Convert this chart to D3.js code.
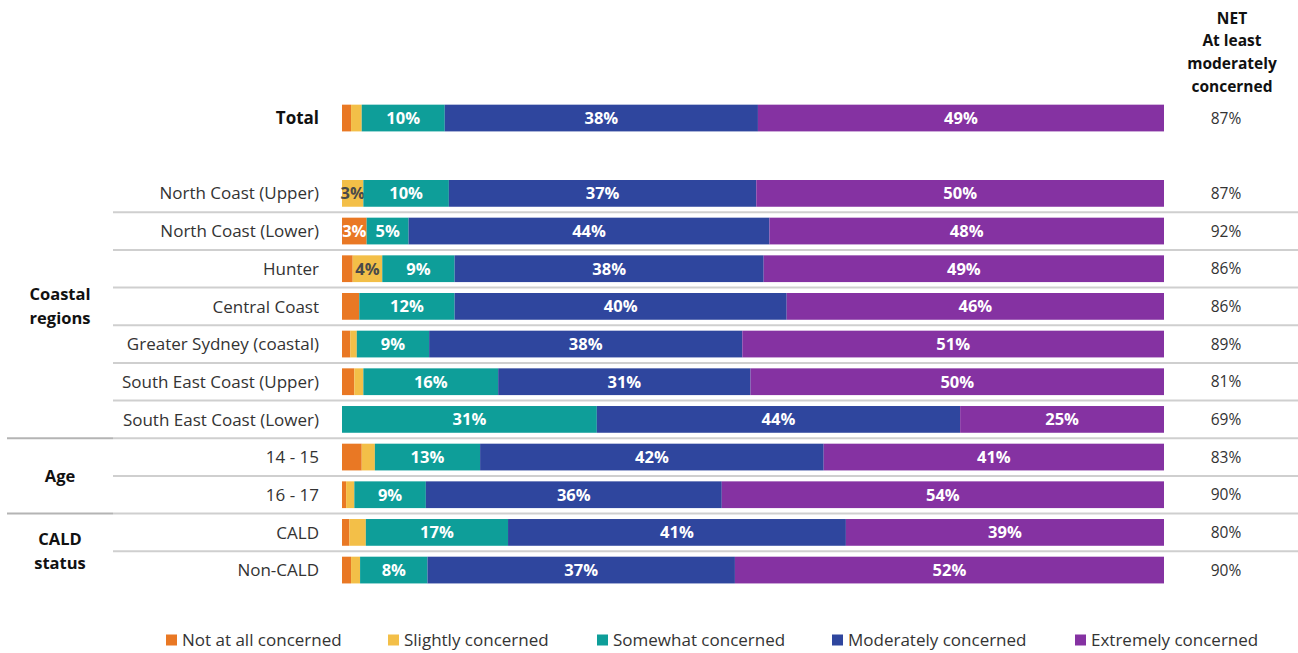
<!DOCTYPE html>
<html>
<head>
<meta charset="utf-8">
<script src="https://cdn.jsdelivr.net/npm/d3@7"></script>
<style>
  html, body { margin: 0; padding: 0; background: #ffffff; }
  svg { display: block; font-family: "Open Sans", Lato, sans-serif; }
</style>
</head>
<body>
<svg id="chart" width="1298" height="653"></svg>
<script>
// Row labels, top to bottom ("" marks the blank spacer row under Total)
const rows = [
  "Total", "",
  "North Coast (Upper)", "North Coast (Lower)", "Hunter", "Central Coast",
  "Greater Sydney (coastal)", "South East Coast (Upper)", "South East Coast (Lower)",
  "14 - 15", "16 - 17", "CALD", "Non-CALD"
];
const dataRows = rows.filter(r => r !== "");

// Share of respondents per level of concern (%), aligned with dataRows
const notAtAll   = [1.1, 0,    3.0,  1.3,  2.1,  1.0,  1.5,  0,    2.4,  0.5,  0.9,  1.1];
const slightly   = [1.3, 2.6,  0,    3.6,  0,    0.8,  1.1,  0,    1.6,  1.0,  2.0,  1.1];
const somewhat   = [10.1, 10.4, 5.1, 8.8,  11.6, 8.8,  16.4, 31.0, 12.8, 8.7,  17.3, 8.2];
const moderately = [38.1, 37.4, 43.9, 37.6, 40.4, 38.1, 30.7, 44.2, 41.8, 36.0, 41.1, 37.4];
const extremely  = [49.4, 49.6, 48.0, 48.7, 45.9, 51.3, 50.3, 24.8, 41.4, 53.8, 38.7, 52.2];

// NET: at least moderately concerned (%)
const netValues = [87, 87, 92, 86, 86, 89, 81, 69, 83, 90, 80, 90];

const seriesNames  = ["Not at all concerned", "Slightly concerned", "Somewhat concerned", "Moderately concerned", "Extremely concerned"];
const seriesColors = ["#E97824", "#F3BF48", "#0E9E99", "#2F469E", "#8532A2"];
const netHeader = ["NET", "At least", "moderately", "concerned"];

// Grouping of rows on the left
const groups = [
  { lines: ["Coastal", "regions"], first: "North Coast (Upper)", last: "South East Coast (Lower)" },
  { lines: ["Age"], first: "14 - 15", last: "16 - 17" },
  { lines: ["CALD", "status"], first: "CALD", last: "Non-CALD" }
];

const table = dataRows.map((name, i) => ({
  name,
  values: [notAtAll[i], slightly[i], somewhat[i], moderately[i], extremely[i]],
  net: netValues[i]
}));

const svg = d3.select("#chart");

const x = d3.scaleLinear().domain([0, 100]).range([342, 1164]);
const y = d3.scaleBand().domain(rows).range([99.2, 588.9]).paddingInner(0.29).paddingOuter(0.145);
const color = d3.scaleOrdinal().domain(seriesNames).range(seriesColors);

// Separator lines
const sepG = svg.append("g");
function sepY(a, b) { return (y(a) + y.bandwidth() + y(b)) / 2; }
for (let i = 2; i < rows.length - 1; i++) {
  const a = rows[i], b = rows[i + 1];
  const yy = sepY(a, b);
  const groupBreak = groups.some(g => g.first === b);
  if (groupBreak) {
    sepG.append("line").attr("x1", 7).attr("x2", 113).attr("y1", yy).attr("y2", yy)
      .attr("stroke", "#b4b4b4").attr("stroke-width", 2);
  }
  sepG.append("line").attr("x1", 113).attr("x2", 1298).attr("y1", yy).attr("y2", yy)
    .attr("stroke", "#cfcfcf").attr("stroke-width", 2);
}

// Stacked bars
const stack = d3.stack().keys(d3.range(5)).value((d, k) => d.values[k]);
const stacked = stack(table);

const barG = svg.append("g");
stacked.forEach((layer, k) => {
  const g = barG.append("g").attr("fill", seriesColors[k]);
  g.selectAll("rect").data(layer).join("rect")
    .attr("x", d => x(d[0]))
    .attr("y", d => y(d.data.name))
    .attr("width", d => Math.max(0, x(d[1]) - x(d[0])))
    .attr("height", y.bandwidth());
  g.selectAll("text").data(layer.filter(d => Math.round(d.data.values[k]) >= 3)).join("text")
    .attr("x", d => (x(d[0]) + x(d[1])) / 2)
    .attr("y", d => y(d.data.name) + y.bandwidth() / 2)
    .attr("dy", "0.36em")
    .attr("text-anchor", "middle")
    .attr("font-size", 16.5)
    .attr("font-weight", "bold")
    .attr("fill", k === 1 ? "#4a4a4a" : "#ffffff")
    .text(d => Math.round(d.data.values[k]) + "%");
});

// Row labels
svg.append("g").selectAll("text").data(dataRows).join("text")
  .attr("x", 319)
  .attr("y", d => y(d) + y.bandwidth() / 2)
  .attr("dy", "0.36em")
  .attr("text-anchor", "end")
  .attr("font-size", 17)
  .attr("font-weight", d => d === "Total" ? "bold" : "normal")
  .attr("fill", d => d === "Total" ? "#111" : "#333")
  .text(d => d);

// Group labels
groups.forEach(g => {
  const cy = (y(g.first) + y(g.last) + y.bandwidth()) / 2;
  const n = g.lines.length;
  g.lines.forEach((t, i) => {
    svg.append("text")
      .attr("x", 60)
      .attr("y", cy + (i - (n - 1) / 2) * 24)
      .attr("dy", "0.36em")
      .attr("text-anchor", "middle")
      .attr("font-size", 16.5)
      .attr("font-weight", "bold")
      .attr("fill", "#111")
      .text(t);
  });
});

// NET column
svg.append("g").selectAll("text").data(netHeader).join("text")
  .attr("x", 1232)
  .attr("y", (d, i) => 18 + i * 22.7)
  .attr("dy", "0.36em")
  .attr("text-anchor", "middle")
  .attr("font-size", 15.5)
  .attr("font-weight", "bold")
  .attr("fill", "#111")
  .text(d => d);

svg.append("g").selectAll("text").data(table).join("text")
  .attr("x", 1226)
  .attr("y", d => y(d.name) + y.bandwidth() / 2)
  .attr("dy", "0.36em")
  .attr("text-anchor", "middle")
  .attr("font-size", 15.5)
  .attr("fill", "#333")
  .text(d => d.net + "%");

// Legend
const legendX = [166, 388, 597, 832, 1075];
const legend = svg.append("g").selectAll("g").data(seriesNames).join("g")
  .attr("transform", (d, i) => `translate(${legendX[i]},640)`);
legend.append("rect").attr("x", 0).attr("y", -5.5).attr("width", 11).attr("height", 11)
  .attr("fill", d => color(d));
legend.append("text").attr("x", 16).attr("dy", "0.36em")
  .attr("font-size", 17).attr("fill", "#333").text(d => d);
</script>
</body>
</html>
